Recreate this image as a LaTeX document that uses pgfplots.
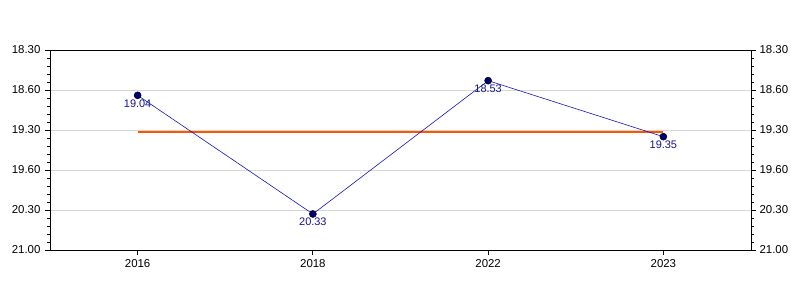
\documentclass[border=0pt]{standalone}
\usepackage{pgfplots}
\pgfplotsset{compat=1.18}
\usepackage{fontspec}
\setmainfont{Liberation Sans}
\definecolor{navy}{RGB}{0,0,120}
\definecolor{linecol}{RGB}{20,20,180}
\definecolor{labcol}{RGB}{20,20,150}
\definecolor{meancol}{RGB}{255,85,0}
\definecolor{gridcol}{RGB}{215,215,215}
\begin{document}
\begin{tikzpicture}[x=1bp,y=1bp]
\pgfplotsset{
  common/.style={
    scale only axis, width=701bp, height=200bp,
    xmin=-0.5, xmax=3.5, ymin=18.5, ymax=21, y dir=reverse,
    ytick={18.5,19,19.5,20,20.5,21},
    yticklabels={18.30,18.60,19.30,19.60,20.30,21.00},
    minor y tick num=4,
    tick align=outside,
    major tick length=5bp, minor tick length=3bp,
    every tick/.style={black, line width=0.8pt},
    axis line style={line width=0.8pt},
    ticklabel style={font=\fontsize{11.5}{13}\selectfont},
    yticklabel style={xshift=-1bp},
  }
}
\begin{axis}[common, name=main,
  xtick={0,1,2,3}, xticklabels={2016,2018,2022,2023},
  xticklabel style={yshift=-1bp},
  ymajorgrids, grid style={gridcol, line width=0.7pt},
  ytick pos=left, xtick pos=bottom,
  clip=false]
\addplot[meancol, line width=2bp] coordinates {(0,19.52) (3,19.52)};
\addplot[linecol, line width=0.6pt, mark=*, mark size=3.5bp,
  mark options={fill=navy, draw=black, line width=0.5pt},
  nodes near coords, point meta=explicit symbolic,
  every node near coord/.style={anchor=north, yshift=-0.5bp, text=labcol, font=\fontsize{11}{12}\selectfont}]
  coordinates {
  (0,19.0667) [19.04]
  (1,20.55) [20.33]
  (2,18.8833) [18.53]
  (3,19.5833) [19.35]
};
\end{axis}
\begin{axis}[common, axis x line=none, axis y line*=right, ytick pos=right,
  yticklabel style={xshift=1bp}]
\end{axis}
\pgfresetboundingbox
\path (main.south west) ++(-50bp,-50bp) rectangle ++(800bp,300bp);
\end{tikzpicture}
\end{document}
